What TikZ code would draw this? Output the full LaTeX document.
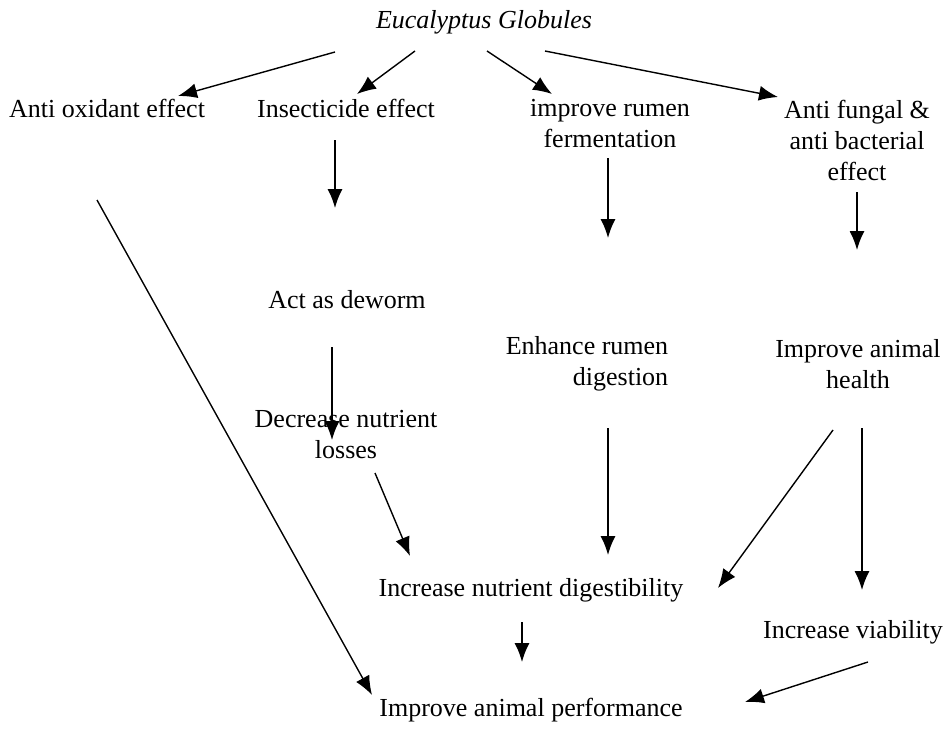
\documentclass[tikz,border=0pt]{standalone}
\usepackage{fontspec}
\setmainfont{Liberation Serif}
\usetikzlibrary{arrows.meta,calc}

\begin{document}
\begin{tikzpicture}[->,>={Latex[length=19pt,width=15pt]},line width=1.4pt,x=1pt,y=-1pt,
    every node/.style={font=\fontsize{26}{31}\selectfont,inner sep=0pt,align=center}]
    \useasboundingbox (0,0) rectangle (946,736);
    \node (eg) at (484,22) {\itshape Eucalyptus Globules};
    \node (aox) at (107,108) {Anti oxidant effect};
    \node (ins) at (346,108) {Insecticide effect};
    \node (ferm) at (610,124) {improve rumen\\fermentation};
    \node (fung) at (857,140) {Anti fungal \&\\anti bacterial\\effect};
    \node (worm) at (347,300) {Act as deworm};
    \node[align=right] (dig) at (587,364) {Enhance rumen\\digestion};
    \node (health) at (858,364) {Improve animal\\health};
    \node (loss) at (346,435) {Decrease nutrient\\losses};
    \node (incdig) at (531,590) {Increase nutrient digestibility};
    \node (viab) at (853,632) {Increase viability};
    \node (perf) at (531,710) {Improve animal performance};
    \path
    ($(eg)+(-149,30)$) edge ($(aox)+(71,-12)$)
    ($(eg)+(-69,29)$) edge ($(ins)+(11,-14)$)
    ($(eg)+(3,29)$) edge ($(ferm)+(-58,-30)$)
    ($(eg)+(61,29)$) edge ($(fung)+(-79,-43)$)
    ($(ins)+(-11,32)$) edge ($(worm)+(-12,-92)$)
    ($(ferm)+(-2,34)$) edge ($(dig)+(21,-126)$)
    ($(fung)+(0,52)$) edge ($(health)+(-1,-114)$)
    ($(worm)+(-15,47)$) edge ($(loss)+(-14,5)$)
    ($(dig)+(21,64)$) edge ($(incdig)+(77,-35)$)
    ($(loss)+(29,38)$) edge ($(incdig)+(-121,-34)$)
    ($(health)+(-25,66)$) edge ($(incdig)+(187,-2)$)
    ($(health)+(4,64)$) edge ($(viab)+(9,-42)$)
    ($(aox)+(-10,92)$) edge ($(perf)+(-159,-15)$)
    ($(incdig)+(-9,32)$) edge ($(perf)+(-9,-48)$)
    ($(viab)+(15,30)$) edge ($(perf)+(214,-8)$)
;
\end{tikzpicture}
\end{document}
